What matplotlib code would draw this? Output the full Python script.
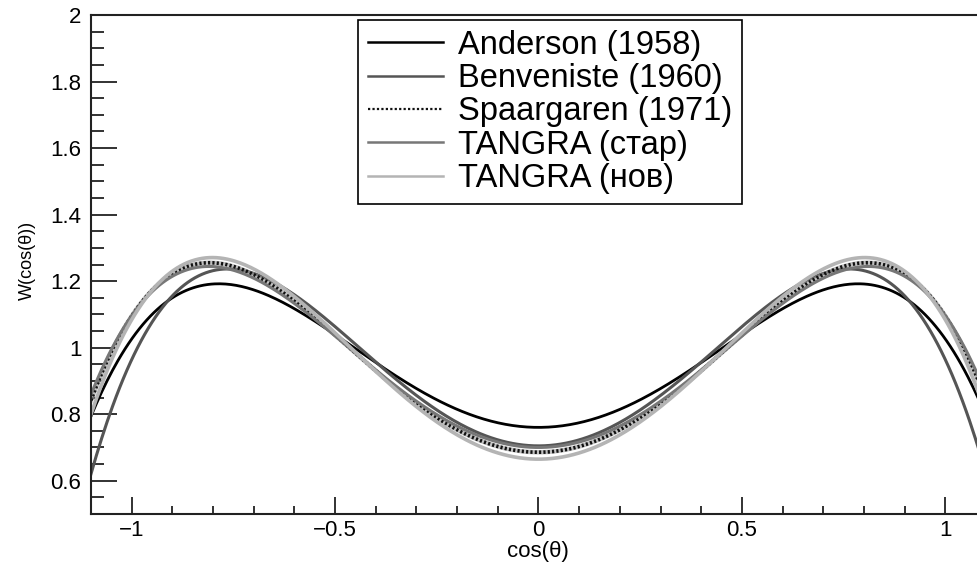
import matplotlib
matplotlib.use("Agg")
import matplotlib.pyplot as plt
import numpy as np
from matplotlib.ticker import MultipleLocator

plt.rcParams['font.family'] = ['Liberation Sans', 'DejaVu Sans']

# angular distribution W = 1 + a2*P2(cos) + a4*P4(cos)
labels = ["Anderson (1958)", "Benveniste (1960)", "Spaargaren (1971)",
          "TANGRA (стар)", "TANGRA (нов)"]
a2 = [0.285, 0.322, 0.400, 0.384, 0.419]
a4 = [-0.259, -0.358, -0.305, -0.288, -0.335]
colors = ["#000000", "#555555", "#111111", "#777777", "#b4b4b4"]
styles = ["-", "-", (0, (0.6, 0.6)), "-", "-"]
widths = [2.0, 2.2, 2.6, 2.2, 2.6]


def P2(x):
    return (3 * x**2 - 1) / 2


def P4(x):
    return (35 * x**4 - 30 * x**2 + 3) / 8


fig = plt.figure(figsize=(9.78, 5.67), dpi=100)
ax = fig.add_axes([91 / 978, 1 - 514 / 567, (986 - 91) / 978, (514 - 15) / 567])

c = np.linspace(-1.1, 1.1, 500)
for lab, b2, b4, col, ls, lw in zip(labels, a2, a4, colors, styles, widths):
    w = 1 + b2 * P2(c) + b4 * P4(c)
    if ls != "-":
        # dotted line drawn over a soft grey band
        ax.plot(c, w, color="#999999", lw=3.2, alpha=0.6)
    ax.plot(c, w, color=col, ls=ls, lw=lw, label=lab)

ax.set_xlim(-1.1, 1.1)
ax.set_ylim(0.5, 2.0)
ax.xaxis.set_major_locator(MultipleLocator(0.5))
ax.xaxis.set_minor_locator(MultipleLocator(0.1))
ax.yaxis.set_major_locator(MultipleLocator(0.2))
ax.yaxis.set_minor_locator(MultipleLocator(0.05))
ax.yaxis.set_major_formatter(matplotlib.ticker.FuncFormatter(lambda v, p: f"{v:g}"))
ax.xaxis.set_major_formatter(matplotlib.ticker.FuncFormatter(
    lambda v, p: f"{v:g}".replace("-", "\u2212")))
ax.tick_params(which="both", direction="in", top=False, right=False,
               width=1.3, color="#222222")
ax.tick_params(axis="y", which="major", length=19, pad=7, labelsize=16)
ax.tick_params(axis="y", which="minor", length=9.5)
ax.tick_params(axis="x", which="major", length=12, pad=4, labelsize=16)
ax.tick_params(axis="x", which="minor", length=6)
for s in ax.spines.values():
    s.set_linewidth(1.5)
    s.set_color("#222222")

narrow = ["Liberation Sans Narrow", "Liberation Sans", "DejaVu Sans"]
fig.text(538 / 978, 1 - 552 / 567, "cos(θ)", ha="center", va="center",
         fontsize=16, family=narrow)
fig.text(27 / 978, 1 - 260 / 567, "W(cos(θ))", ha="center", va="center",
         rotation=90, fontsize=13, family=narrow)

leg_handles = [plt.Line2D([], [], color=col, ls=("-" if ls == "-" else (0, (1, 1))),
                          lw=(1.8 if ls == "-" else 1.6)) for col, ls in zip(colors, styles)]
leg = ax.legend(leg_handles, labels, loc="upper left",
                bbox_to_anchor=(358 / 978, 1 - 20 / 567), bbox_transform=fig.transFigure,
                fontsize=23.5, frameon=True, fancybox=False, framealpha=1,
                edgecolor="#000000", borderpad=0.3, labelspacing=0.07,
                handlelength=2.3, handletextpad=0.45, borderaxespad=0)
leg.get_frame().set_linewidth(1.2)

fig.savefig("out.png", dpi=100)
